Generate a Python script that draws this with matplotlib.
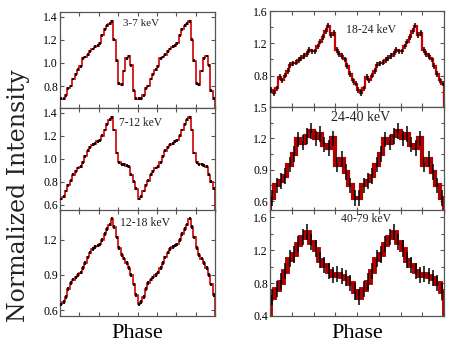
""" Pulse profiles in six energy bands, two cycles each. """
import numpy as np
import matplotlib.pyplot as plt
from matplotlib.ticker import MultipleLocator

# one pulse cycle per band (normalized intensity per phase bin)
prof_3_7 = [0.69, 0.69, 0.72, 0.78, 0.80, 0.86, 0.90, 0.94, 0.97, 1.04, 1.05,
            1.07, 1.10, 1.12, 1.14, 1.15, 1.17, 1.24, 1.29, 1.32, 1.34, 1.36,
            1.20, 1.02, 0.82, 0.81, 0.93, 1.04, 1.06, 0.98, 0.76, 0.69]
prof_7_12 = [0.65, 0.67, 0.72, 0.77, 0.81, 0.86, 0.89, 0.92, 0.93, 0.97, 1.02,
             1.07, 1.10, 1.12, 1.13, 1.15, 1.16, 1.20, 1.25, 1.30, 1.34, 1.36,
             1.25, 1.05, 0.97, 0.95, 0.95, 0.94, 0.93, 0.86, 0.80, 0.74]
prof_12_18 = [0.65, 0.67, 0.71, 0.78, 0.83, 0.86, 0.88, 0.90, 0.92, 0.96, 1.00,
              1.05, 1.09, 1.12, 1.14, 1.15, 1.16, 1.20, 1.25, 1.29, 1.33, 1.38,
              1.31, 1.22, 1.13, 1.07, 1.04, 1.00, 0.96, 0.90, 0.82, 0.73]
prof_18_24 = [0.62, 0.58, 0.64, 0.78, 0.74, 0.80, 0.86, 0.93, 0.95, 0.96, 0.99,
              1.02, 1.04, 1.07, 1.12, 1.10, 1.10, 1.16, 1.22, 1.28, 1.35, 1.42,
              1.30, 1.33, 1.12, 1.07, 1.04, 1.00, 0.92, 0.82, 0.74, 0.70]
prof_24_40 = [0.63, 0.75, 0.79, 0.84, 0.95, 1.05, 1.19, 1.16, 1.22, 1.27,
              1.20, 1.24, 1.14, 1.11, 1.20, 0.95, 1.00, 0.88, 0.75, 0.63]
prof_40_79 = [0.63, 0.73, 0.82, 0.95, 1.10, 1.15, 1.28, 1.36, 1.42, 1.30,
              1.22, 1.08, 1.02, 0.95, 0.90, 0.91, 0.89, 0.86, 0.80, 0.70]

labels = ["3-7 keV", "7-12 keV", "12-18 keV",
          "18-24 keV", "24-40 keV", "40-79 keV"]
profiles = [prof_3_7, prof_7_12, prof_12_18,
            prof_18_24, prof_24_40, prof_40_79]
errors = [0.012, 0.012, 0.015, 0.035, 0.075, 0.1]

# axes boxes in pixels: left, top, right, bottom
W, H = 474, 352
boxes = [(60, 12, 215, 108), (60, 108, 215, 210.5), (60, 210.5, 215, 316),
         (270, 11, 444, 107), (270, 107, 444, 210.5), (270, 210.5, 444, 316)]
ylims = [(0.61, 1.44), (0.55, 1.44), (0.55, 1.45),
         (0.41, 1.6), (0.51, 1.5), (0.4, 1.685)]
ymajor = [0.2, 0.2, 0.3, 0.4, 0.3, 0.4]
label_pos = [(0.52, 0.88), (0.52, 0.85), (0.55, 0.88),
             (0.58, 0.80), (0.52, 0.90), (0.55, 0.92)]
label_size = [8, 8.3, 8.5, 8.5, 10, 8.5]
line_w = [1.2, 1.2, 1.2, 1.6, 3.0, 3.5]

fig = plt.figure(figsize=(W / 100, H / 100), dpi=100)

for i in range(6):
    x0, y0, x1, y1 = boxes[i]
    ax = fig.add_axes([x0 / W, 1 - y1 / H, (x1 - x0) / W, (y1 - y0) / H])
    prof = np.concatenate([profiles[i], profiles[i]])
    edges = np.linspace(0, 2, len(prof) + 1)
    centers = 0.5 * (edges[:-1] + edges[1:])
    red = '#d00000' if i < 4 else '#b00000'
    ax.stairs(prof, edges, color=red, lw=line_w[i], zorder=2)
    ax.errorbar(centers, prof, yerr=errors[i], fmt='none', ecolor='black',
                elinewidth=1.3 if i < 3 else 1.1, zorder=3)
    ax.set_xlim(0, 2)
    ax.set_ylim(*ylims[i])
    ax.xaxis.set_major_locator(MultipleLocator(0.25))
    ax.yaxis.set_major_locator(MultipleLocator(ymajor[i]))
    if i >= 3:
        ax.yaxis.set_minor_locator(MultipleLocator(ymajor[i] / 2))
    ax.tick_params(which='both', direction='in', top=True, right=True,
                   length=3, width=0.8, color='#555555', labelbottom=False,
                   labelsize=8.5, pad=1.5)
    ax.tick_params(which='minor', length=2)
    for lab in ax.get_yticklabels():
        lab.set_family('Liberation Serif')
    for sp in ax.spines.values():
        sp.set_color('#555555')
        sp.set_linewidth(0.9)
    ax.text(label_pos[i][0], label_pos[i][1], labels[i], transform=ax.transAxes,
            ha='center', va='center', fontsize=label_size[i],
            family='Liberation Serif', color='#222222')

fig.text(137 / W, 1 - 334 / H, "Phase", ha='center', va='center',
         fontsize=16, family='Liberation Serif')
fig.text(357 / W, 1 - 334 / H, "Phase", ha='center', va='center',
         fontsize=16, family='Liberation Serif')
fig.text(19 / W, 1 - 196 / H, "Normalized Intensity", ha='center',
         va='center', rotation=90, fontsize=17, family='DejaVu Serif',
         color='#222222')

fig.savefig('out.png', dpi=100)
